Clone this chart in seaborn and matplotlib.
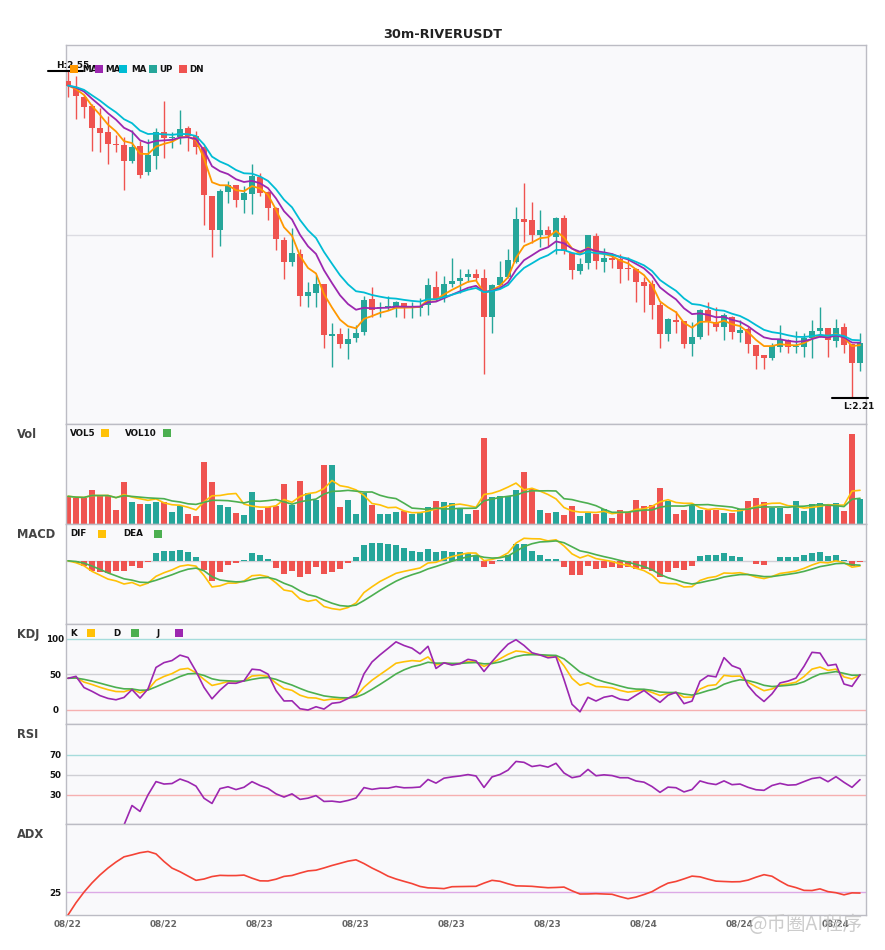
import numpy as np
import pandas as pd
import matplotlib
matplotlib.use("Agg")
import matplotlib.pyplot as plt
import seaborn as sns
from matplotlib.patches import Rectangle

# 30m candles
opens = [2.540, 2.534, 2.523, 2.514, 2.491, 2.487, 2.474, 2.473, 2.456, 2.472,
         2.445, 2.462, 2.487, 2.480, 2.481, 2.491, 2.482, 2.471, 2.420, 2.385,
         2.424, 2.432, 2.416, 2.422, 2.440, 2.424, 2.408, 2.374, 2.351, 2.360,
         2.316, 2.319, 2.328, 2.274, 2.276, 2.266, 2.272, 2.279, 2.313, 2.303,
         2.304, 2.304, 2.309, 2.304, 2.304, 2.307, 2.325, 2.314, 2.328, 2.332,
         2.336, 2.339, 2.335, 2.294, 2.327, 2.336, 2.351, 2.396, 2.395, 2.379,
         2.385, 2.377, 2.397, 2.361, 2.342, 2.350, 2.378, 2.351, 2.356, 2.354,
         2.345, 2.344, 2.331, 2.328, 2.307, 2.276, 2.291, 2.290, 2.266, 2.273,
         2.301, 2.289, 2.284, 2.294, 2.278, 2.282, 2.265, 2.255, 2.251, 2.263,
         2.270, 2.263, 2.263, 2.272, 2.280, 2.283, 2.269, 2.284, 2.266, 2.246]
closes = [2.535, 2.524, 2.513, 2.491, 2.486, 2.474, 2.473, 2.457, 2.471, 2.442,
          2.463, 2.487, 2.480, 2.481, 2.490, 2.483, 2.471, 2.421, 2.385, 2.425,
          2.431, 2.416, 2.423, 2.441, 2.423, 2.408, 2.375, 2.351, 2.361, 2.316,
          2.320, 2.328, 2.275, 2.276, 2.266, 2.271, 2.278, 2.312, 2.301, 2.305,
          2.305, 2.310, 2.304, 2.3045, 2.306, 2.327, 2.313, 2.328, 2.332, 2.335,
          2.339, 2.335, 2.294, 2.327, 2.336, 2.353, 2.396, 2.393, 2.379, 2.385,
          2.379, 2.397, 2.363, 2.343, 2.349, 2.379, 2.352, 2.356, 2.353, 2.344,
          2.344, 2.331, 2.326, 2.307, 2.276, 2.292, 2.289, 2.266, 2.273, 2.301,
          2.290, 2.284, 2.296, 2.279, 2.281, 2.266, 2.254, 2.251, 2.264, 2.270,
          2.263, 2.264, 2.272, 2.280, 2.283, 2.270, 2.283, 2.265, 2.246, 2.267]
highs = [2.550, 2.545, 2.525, 2.516, 2.512, 2.503, 2.484, 2.481, 2.489, 2.477,
         2.479, 2.491, 2.519, 2.487, 2.510, 2.493, 2.488, 2.472, 2.420, 2.427,
         2.436, 2.432, 2.430, 2.453, 2.444, 2.425, 2.409, 2.377, 2.387, 2.365,
         2.331, 2.338, 2.328, 2.288, 2.283, 2.283, 2.286, 2.316, 2.325, 2.310,
         2.316, 2.311, 2.309, 2.310, 2.314, 2.335, 2.342, 2.337, 2.356, 2.344,
         2.344, 2.344, 2.344, 2.329, 2.352, 2.365, 2.409, 2.434, 2.414, 2.405,
         2.389, 2.398, 2.400, 2.361, 2.356, 2.380, 2.382, 2.366, 2.361, 2.360,
         2.357, 2.345, 2.336, 2.333, 2.310, 2.293, 2.300, 2.290, 2.289, 2.302,
         2.310, 2.305, 2.298, 2.295, 2.291, 2.284, 2.265, 2.255, 2.267, 2.286,
         2.271, 2.280, 2.278, 2.291, 2.305, 2.283, 2.292, 2.288, 2.266, 2.278]
lows = [2.523, 2.500, 2.501, 2.467, 2.466, 2.453, 2.466, 2.426, 2.454, 2.439,
        2.442, 2.448, 2.460, 2.470, 2.474, 2.467, 2.464, 2.390, 2.357, 2.368,
        2.413, 2.409, 2.402, 2.401, 2.420, 2.395, 2.364, 2.334, 2.347, 2.306,
        2.305, 2.305, 2.262, 2.242, 2.262, 2.250, 2.268, 2.275, 2.294, 2.294,
        2.301, 2.294, 2.293, 2.293, 2.295, 2.296, 2.311, 2.310, 2.325, 2.319,
        2.331, 2.332, 2.235, 2.277, 2.326, 2.335, 2.350, 2.372, 2.371, 2.367,
        2.368, 2.360, 2.360, 2.334, 2.339, 2.344, 2.344, 2.341, 2.345, 2.330,
        2.333, 2.310, 2.299, 2.292, 2.262, 2.269, 2.277, 2.262, 2.254, 2.271,
        2.275, 2.280, 2.270, 2.271, 2.268, 2.257, 2.240, 2.240, 2.249, 2.258,
        2.257, 2.257, 2.253, 2.252, 2.273, 2.253, 2.263, 2.257, 2.210, 2.238]
volumes = [277, 260, 260, 343, 283, 283, 143, 417, 217, 203,
           203, 217, 217, 123, 177, 103, 83, 623, 423, 193,
           173, 113, 93, 323, 143, 170, 183, 403, 187, 433,
           313, 243, 593, 593, 173, 243, 103, 313, 193, 103,
           103, 123, 133, 103, 110, 173, 233, 223, 213, 153,
           103, 143, 863, 273, 283, 283, 343, 523, 353, 143,
           113, 123, 93, 183, 83, 113, 103, 153, 63, 143,
           123, 243, 183, 193, 363, 233, 103, 143, 193, 143,
           143, 143, 113, 113, 153, 233, 263, 223, 163, 163,
           103, 233, 133, 203, 213, 183, 213, 133, 903, 253]
tick_pos = [0, 12, 24, 36, 48, 60, 72, 84, 96]
tick_labels = ["08/22", "08/22", "08/23", "08/23", "08/23", "08/23", "08/24", "08/24", "08/24"]

UP, DN = "#26a69a", "#ef5350"
C_MA5, C_MA10, C_MA20 = "#ff9800", "#9c27b0", "#00bcd4"
YEL, GRN, PUR = "#ffc107", "#4caf50", "#9c27b0"
FACE = "#f9f9fb"
SPINE = "#bcbcc4"

df = pd.DataFrame({"open": opens, "high": highs, "low": lows, "close": closes, "volume": volumes})
df["i"] = np.arange(len(df))
c = df["close"]


def ema(s, span):
    return s.ewm(span=span, adjust=False).mean()


# the three price lines behave like EMAs with these spans
df["ma_a"] = ema(c, 5)
df["ma_b"] = ema(c, 9)
df["ma_c"] = ema(c, 13)
df["vol5"] = df["volume"].rolling(5, min_periods=1).mean()
df["vol10"] = df["volume"].rolling(10, min_periods=1).mean()

# MACD (fast 6, slow 13, signal 4.5 fits the panel)
dif = ema(c, 6) - ema(c, 13)
dea = ema(dif, 4.5)
hist = 2 * (dif - dea)

# KDJ 9,3,3
low9 = df["low"].rolling(9, min_periods=1).min()
high9 = df["high"].rolling(9, min_periods=1).max()
rsv = (c - low9) / (high9 - low9) * 100
k = rsv.ewm(com=2, adjust=False).mean()
d = k.ewm(com=2, adjust=False).mean()
j = 3 * k - 2 * d

# RSI 14
delta = c.diff().fillna(0)
gain = delta.clip(lower=0).ewm(alpha=1 / 14, adjust=False).mean()
loss = (-delta.clip(upper=0)).ewm(alpha=1 / 14, adjust=False).mean()
rsi = (100 * gain / (gain + loss)).fillna(0)

# ADX
prev_c = c.shift()
tr = pd.concat([df["high"] - df["low"], (df["high"] - prev_c).abs(), (df["low"] - prev_c).abs()], axis=1).max(axis=1)
up_m = df["high"].diff()
dn_m = -df["low"].diff()
pdm = pd.Series(np.where((up_m > dn_m) & (up_m > 0), up_m, 0.0))
mdm = pd.Series(np.where((dn_m > up_m) & (dn_m > 0), dn_m, 0.0))
atr = ema(tr, 14)
pdi = 100 * ema(pdm, 14) / atr
mdi = 100 * ema(mdm, 14) / atr
dx = (100 * (pdi - mdi).abs() / (pdi + mdi)).fillna(0)
adx = ema(dx, 14)

sns.set_theme(style="white")
plt.rcParams["font.family"] = ["DejaVu Sans", "Noto Sans CJK SC"]

W, H = 885, 950
fig = plt.figure(figsize=(W / 100, H / 100), dpi=100)


def rect(top, bottom):
    return [66 / W, 1 - bottom / H, 800 / W, (bottom - top) / H]


def px(x, y):
    return (x / W, 1 - y / H)


axes = []
for top, bot in [(45, 424), (424, 524), (524, 624), (624, 724), (724, 824), (824, 915)]:
    a = fig.add_axes(rect(top, bot))
    a.set_facecolor(FACE)
    for s in a.spines.values():
        s.set_color(SPINE)
        s.set_linewidth(1)
    a.set_xticks([])
    a.set_yticks([])
    axes.append(a)
ax, axv, axm, axk, axr, axa = axes

# candles
colors = np.where(df["close"] >= df["open"], UP, DN)
body_lo = np.minimum(df["open"], df["close"])
body_h = np.maximum((df["close"] - df["open"]).abs(), 0.0012)
ax.vlines(df["i"], df["low"], df["high"], colors=colors, lw=1, zorder=2)
ax.bar(df["i"], body_h, bottom=body_lo, width=0.74, color=colors, lw=0, zorder=3)
for col, clr in [("ma_a", C_MA5), ("ma_b", C_MA10), ("ma_c", C_MA20)]:
    sns.lineplot(x=df["i"], y=df[col], ax=ax, color=clr, lw=1.3, zorder=4)
pr = df["high"].max() - df["low"].min()
ax.set_ylim(df["low"].min() - 0.08 * pr, df["high"].max() + 0.08 * pr)
ax.axhline(sum(ax.get_ylim()) / 2, color="#dcdce2", lw=1, zorder=1)

hi_i, lo_i = df["high"].idxmax(), df["low"].idxmin()
hi, lo = df["high"].max(), df["low"].min()
ax.plot([hi_i - 2.5, hi_i + 1.9], [hi, hi], color="black", lw=1.5, clip_on=False, zorder=6)
ax.annotate(f"H:{hi:.2f}", (hi_i + 0.6, hi), xytext=(0, 1), textcoords="offset points",
            ha="center", va="bottom", fontsize=6.4, weight="bold", color="#111", annotation_clip=False, zorder=7)
ax.plot([lo_i - 2.5, lo_i + 2], [lo, lo], color="black", lw=1.5, clip_on=False, zorder=6)
ax.annotate(f"L:{lo:.2f}", (lo_i + 0.8, lo), xytext=(0, -3), textcoords="offset points",
            ha="center", va="top", fontsize=6.4, weight="bold", color="#111", annotation_clip=False, zorder=7)

# volume
axv.bar(df["i"], df["volume"], width=0.78, color=colors, lw=0, zorder=2)
sns.lineplot(x=df["i"], y=df["vol5"], ax=axv, color=YEL, lw=1.2, zorder=3)
sns.lineplot(x=df["i"], y=df["vol10"], ax=axv, color=GRN, lw=1.2, zorder=3)
axv.set_ylim(0, df["volume"].max() * 1.107)

# macd
axm.bar(df["i"], hist, width=0.78, color=np.where(hist >= 0, UP, DN), lw=0, zorder=2)
axm.axhline(0, color="#cfcfd6", lw=1, zorder=1)
sns.lineplot(x=df["i"], y=dif, ax=axm, color=YEL, lw=1.2, zorder=3)
sns.lineplot(x=df["i"], y=dea, ax=axm, color=GRN, lw=1.2, zorder=3)
m_lo = min(dif.min(), dea.min(), hist.min())
m_hi = max(dif.max(), dea.max(), hist.max())
axm.set_ylim(m_lo - 0.2 * (m_hi - m_lo), m_hi + 0.2 * (m_hi - m_lo))

# kdj
for lvl, clr in [(100, "#a6dcdc"), (50, "#cfcfd4"), (0, "#f6b0b0")]:
    axk.axhline(lvl, color=clr, lw=1, zorder=1)
sns.lineplot(x=df["i"], y=k, ax=axk, color=YEL, lw=1.2, zorder=3)
sns.lineplot(x=df["i"], y=d, ax=axk, color=GRN, lw=1.2, zorder=3)
sns.lineplot(x=df["i"], y=j, ax=axk, color=PUR, lw=1.2, zorder=3)
axk.set_ylim(-20, 121)
axk.set_yticks([0, 50, 100])

# rsi
for lvl, clr in [(70, "#a6dcdc"), (50, "#cfcfd4"), (30, "#f6b0b0")]:
    axr.axhline(lvl, color=clr, lw=1, zorder=1)
sns.lineplot(x=df["i"], y=rsi, ax=axr, color=PUR, lw=1.2, zorder=3)
axr.set_ylim(1, 101)
axr.set_yticks([30, 50, 70])

# adx
axa.axhline(25, color="#dcaae6", lw=1, zorder=1)
sns.lineplot(x=df["i"], y=adx, ax=axa, color="#f44336", lw=1.2, zorder=3)
axa.set_ylim(0, 99)
axa.set_yticks([25])
axa.set_xticks(tick_pos)
axa.set_xticklabels(tick_labels)
axa.tick_params(axis="x", length=0, pad=3, labelsize=6.4, labelcolor="#666")
for t in axa.get_xticklabels():
    t.set_fontweight("bold")

for a in (axk, axr, axa):
    a.tick_params(axis="y", length=0, pad=7.6, labelsize=6.3, labelcolor="#111")
    for t in a.get_yticklabels():
        t.set_fontweight("bold")
        t.set_horizontalalignment("center")

for a in axes:
    a.set_xlabel("")
    a.set_ylabel("")
    a.set_xlim(-0.25, len(df) - 0.25)

# title and panel names
fig.text(*px(443, 34), "30m-RIVERUSDT", ha="center", va="center", fontsize=9.3, weight="bold", color="#222")
for name, y in [("Vol", 435), ("MACD", 534.5), ("KDJ", 634.5), ("RSI", 734.5), ("ADX", 834.5)]:
    fig.text(*px(17, y), name, ha="left", va="center", fontsize=8.3, weight="bold", color="#444")


def square(x, y, clr):
    fig.add_artist(Rectangle(px(x, y + 4), 8 / W, 8 / H, transform=fig.transFigure,
                             facecolor=clr, edgecolor="none", zorder=5))


def label(x, y, s):
    fig.text(*px(x, y), s, ha="left", va="center", fontsize=6.3, weight="bold", color="#111", zorder=4)


# main legend (squares first, text after)
for sx, tx, clr, s in [(69.5, 82, C_MA5, "MA"), (94.5, 105.5, C_MA10, "MA"), (118.5, 131, C_MA20, "MA"),
                       (148.5, 159.5, UP, "UP"), (178.5, 189.5, DN, "DN")]:
    label(tx, 69, s)
    square(sx, 69, clr)

for tx, sx, clr, s, y in [(70, 101, YEL, "VOL5", 433), (125, 163, GRN, "VOL10", 433),
                          (70, 97.5, YEL, "DIF", 533.5), (123.5, 153.5, GRN, "DEA", 533.5),
                          (70.5, 87, YEL, "K", 633), (113.5, 131, GRN, "D", 633), (157, 175, PUR, "J", 633)]:
    label(tx, y, s)
    square(sx, y, clr)

fig.text(*px(806, 925), "@币圈AI程序", ha="center", va="center", fontsize=14,
         color="#c4c4c4", alpha=0.85, family=["Noto Sans CJK SC", "DejaVu Sans"])

fig.savefig("out.png", dpi=100, facecolor="white")
